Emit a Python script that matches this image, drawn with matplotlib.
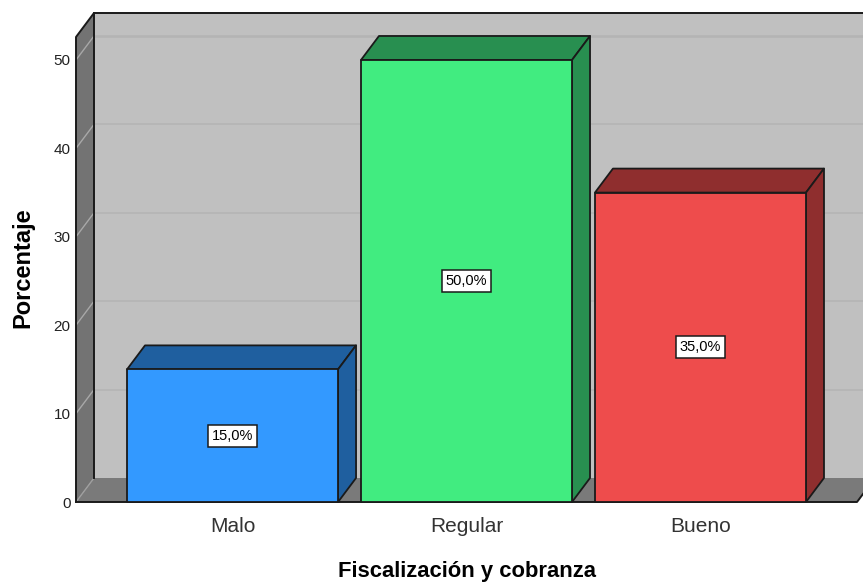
import matplotlib
matplotlib.use('Agg')
import matplotlib.pyplot as plt
from matplotlib.patches import Polygon

plt.rcParams['font.family'] = ['Liberation Sans', 'DejaVu Sans']

categories = ['Malo', 'Regular', 'Bueno']
values = [15.0, 50.0, 35.0]
value_labels = ['15,0%', '50,0%', '35,0%']
y_ticks = [0, 10, 20, 30, 40, 50]
front_colors = ['#3399FF', '#41EC80', '#EE4C4C']
side_colors = ['#1F5F9F', '#288F50', '#8F2E2E']

W, H = 863, 582
fig = plt.figure(figsize=(W / 100, H / 100), dpi=100)
ax = fig.add_axes([76 / W, (H - 502) / H, 781 / W, 465 / H])

xmin, xmax = -0.669, 2.669
ymax = 52.6
ax.set_xlim(xmin, xmax)
ax.set_ylim(0, ymax)

# depth of the fake 3d box, in data units
dx = 18 / 234
dy = 24 / 8.84
bar_w = 0.902
line = '#1a1a1a'


def poly(pts, color, edge='none', lw=0, z=1):
    ax.add_patch(Polygon(pts, closed=True, facecolor=color, edgecolor=edge,
                         linewidth=lw, clip_on=False, zorder=z, joinstyle='round'))


# walls
poly([(xmin + dx, dy), (xmax + dx, dy), (xmax + dx, ymax + dy), (xmin + dx, ymax + dy)], '#C0C0C0', z=1)
poly([(xmin, 0), (xmin + dx, dy), (xmin + dx, ymax + dy), (xmin, ymax)], '#737373', z=1)
poly([(xmin, 0), (xmax, 0), (xmax + dx, dy), (xmin + dx, dy)], '#7A7A7A', z=1)

# gridlines
for t in y_ticks[1:]:
    ax.plot([xmin + dx, xmax + dx], [t + dy, t + dy], color='#B4B4B4', lw=1.2, clip_on=False, zorder=2)
    ax.plot([xmin, xmin + dx], [t, t + dy], color='#A8A8A8', lw=1, clip_on=False, zorder=2)
ax.plot([xmin, xmin + dx], [0, dy], color='#A0A0A0', lw=1, clip_on=False, zorder=2)
ax.plot([xmin + dx, xmax + dx], [ymax, ymax], color='#B4B4B4', lw=1.2, clip_on=False, zorder=2)

# outline of the box
ax.plot([xmin, xmin, xmin + dx, xmax + dx], [0, ymax, ymax + dy, ymax + dy], color=line, lw=1.4,
        clip_on=False, zorder=3)
ax.plot([xmin + dx, xmin + dx], [dy, ymax + dy], color=line, lw=1.4, clip_on=False, zorder=3)
ax.plot([xmin, xmax, xmax + dx], [0, 0, dy], color=line, lw=1.4, clip_on=False, zorder=3)

# bars
for i, v in enumerate(values):
    l = i - bar_w / 2
    r = i + bar_w / 2
    poly([(l, v), (l + dx, v + dy), (r + dx, v + dy), (r, v)], side_colors[i], line, 1.3, 4)
    poly([(r, 0), (r + dx, dy), (r + dx, v + dy), (r, v)], side_colors[i], line, 1.3, 4)
    poly([(l, 0), (r, 0), (r, v), (l, v)], front_colors[i], line, 1.3, 5)
    ax.text(i, v / 2, value_labels[i], ha='center', va='center', fontsize=10.5, color='black', zorder=6,
            bbox=dict(boxstyle='square,pad=0.28', facecolor='white', edgecolor=line, linewidth=1.1))

for s in ax.spines.values():
    s.set_visible(False)
ax.patch.set_visible(False)

ax.set_xticks(range(len(categories)))
ax.set_xticklabels(categories, fontsize=15, color='#333333')
ax.set_yticks(y_ticks)
ax.tick_params(axis='y', length=0, pad=4, labelsize=11, labelcolor='#222222')
ax.tick_params(axis='x', length=0, pad=10.5)

ax.set_xlabel('Fiscalización y cobranza', fontsize=15.8, fontweight='bold', labelpad=18.5)
ax.set_ylabel('Porcentaje', fontsize=17, fontweight='bold', labelpad=14, y=0.503)

fig.savefig('out.png', dpi=100)
